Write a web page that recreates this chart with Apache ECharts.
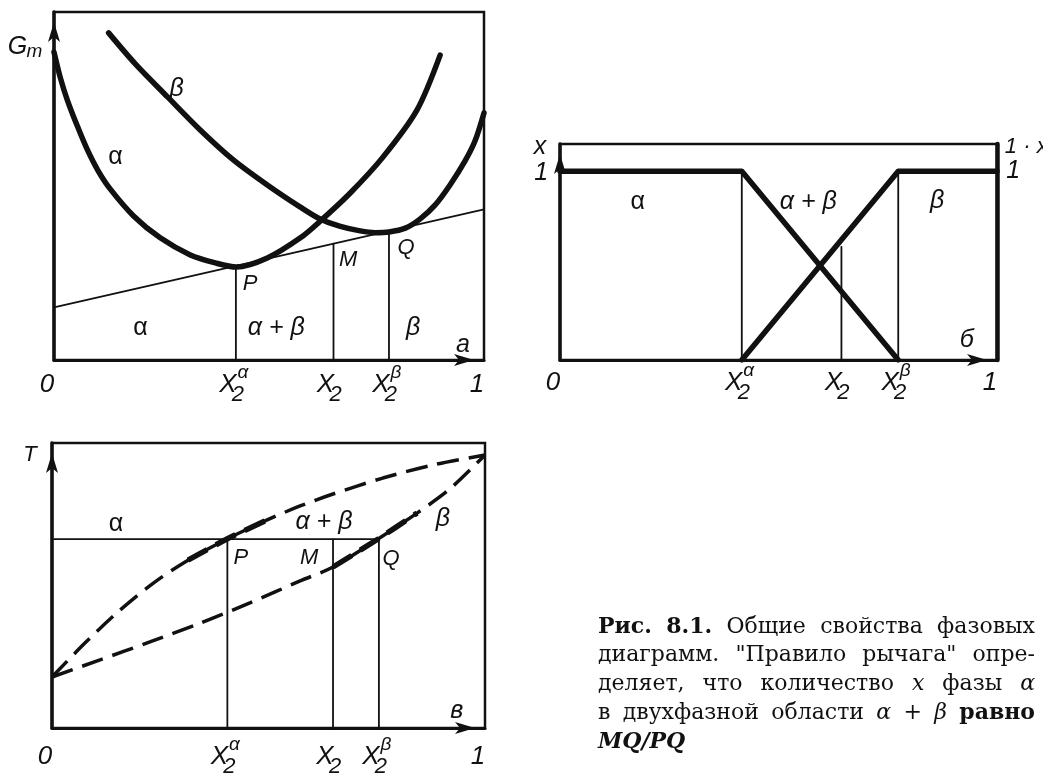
<!DOCTYPE html>
<html>
<head>
<meta charset="utf-8">
<script src="https://cdn.jsdelivr.net/npm/echarts@6/dist/echarts.min.js"></script>
<style>
  html, body { margin: 0; padding: 0; background: #fff; }
  #chart { width: 1043px; height: 776px; }
</style>
</head>
<body>
<div id="chart"></div>
<script>
// ---------- data ----------
// compositions marked on each composition axis: 0, X2α, X2, X2β, 1
const gibbsComp = [0, 0.423, 0.65, 0.779, 1];
const fracComp  = [0, 0.416, 0.644, 0.774, 1];
const tempComp  = [0, 0.405, 0.649, 0.755, 1];
const compLabels = [
  { base: '0' },
  { base: 'X', sub: '2', sup: 'α' },
  { base: 'X', sub: '2' },
  { base: 'X', sub: '2', sup: 'β' },
  { base: '1' }
];

// molar Gibbs energy of the α and β phases vs composition
const gibbsAlpha = [[0, 0.885], [0.015, 0.81], [0.031, 0.747], [0.055, 0.67], [0.078, 0.603],
  [0.103, 0.543], [0.131, 0.491], [0.185, 0.414], [0.247, 0.351], [0.317, 0.302],
  [0.375, 0.279], [0.424, 0.267], [0.496, 0.293], [0.573, 0.351], [0.619, 0.399],
  [0.689, 0.48], [0.765, 0.583], [0.844, 0.718], [0.898, 0.876]];
const gibbsBeta = [[0.127, 0.94], [0.189, 0.851], [0.264, 0.756], [0.34, 0.661], [0.417, 0.575],
  [0.496, 0.503], [0.572, 0.44], [0.619, 0.405], [0.666, 0.384], [0.712, 0.371],
  [0.747, 0.366], [0.779, 0.368], [0.817, 0.379], [0.851, 0.405], [0.886, 0.445],
  [0.921, 0.503], [0.956, 0.572], [0.979, 0.629], [1, 0.71]];
// common tangent touching both curves
const tangent = [[0, 0.151], [1, 0.433]];

// phase amounts x (α) and 1 - x (β)
const fracAlpha = [[0, 1], [0.416, 1], [0.774, 0]];
const fracBeta  = [[0.416, 0], [0.774, 1], [1, 1]];
const fracLeverTop = 0.6;

// temperature diagram: phase boundaries and the tie line P–Q
const tempUpper = [[0, 0.179], [0.076, 0.298], [0.152, 0.407], [0.231, 0.505], [0.314, 0.589],
  [0.404, 0.663], [0.497, 0.73], [0.573, 0.779], [0.649, 0.821], [0.764, 0.877],
  [0.88, 0.923], [1, 0.958]];
const tempLower = [[0, 0.179], [0.111, 0.239], [0.226, 0.302], [0.342, 0.368], [0.457, 0.439],
  [0.573, 0.516], [0.649, 0.565], [0.753, 0.663], [0.843, 0.754], [0.919, 0.839], [1, 0.958]];
const tieT = 0.663;

// ---------- layout ----------
const INK = '#111';
const SANS = '"Liberation Sans", "DejaVu Sans", sans-serif';
const SERIF = '"DejaVu Serif", "Liberation Serif", serif';

const grids = [
  { left: 54, top: 12, width: 430, height: 348 },
  { left: 560, top: 144, width: 437, height: 216 },
  { left: 52, top: 443, width: 433, height: 285 }
].map(g => Object.assign({ show: true, borderColor: INK, borderWidth: 2.5, backgroundColor: 'transparent' }, g));

const yMax = [1, 1.145, 1];

function axisArrow(width) {
  return {
    show: true, onZero: false,
    symbol: ['none', 'arrow'], symbolSize: [9, 20], symbolOffset: [0, -10],
    lineStyle: { color: INK, width: width }
  };
}
const hidden = { axisTick: { show: false }, axisLabel: { show: false }, splitLine: { show: false } };

const xAxes = grids.map((g, i) => Object.assign({
  type: 'value', gridIndex: i, min: 0, max: 1, axisLine: axisArrow(3)
}, hidden));
const yAxes = grids.map((g, i) => Object.assign({
  type: 'value', gridIndex: i, min: 0, max: yMax[i], axisLine: axisArrow(3.5)
}, hidden));
// right-hand "1 - x" axis of the amount diagram
yAxes.push(Object.assign({
  type: 'value', gridIndex: 1, min: 0, max: yMax[1], position: 'right',
  axisLine: { show: true, onZero: false, lineStyle: { color: INK, width: 4.5 } }
}, hidden));

function line(gi, data, width, extra) {
  return Object.assign({
    type: 'line', xAxisIndex: gi, yAxisIndex: gi, data: data,
    symbol: 'none', showSymbol: false, silent: true, animation: false,
    lineStyle: { color: INK, width: width, cap: 'round', join: 'round' }
  }, extra || {});
}
function dashed(gi, data, width) {
  return line(gi, data, width, {
    smooth: 0.3,
    lineStyle: { color: INK, width: width, type: [22, 10], cap: 'butt' }
  });
}
function lerp(pts, x) {
  for (let i = 1; i < pts.length; i++) {
    if (x <= pts[i][0]) {
      const t = (x - pts[i - 1][0]) / (pts[i][0] - pts[i - 1][0]);
      return pts[i - 1][1] + t * (pts[i][1] - pts[i - 1][1]);
    }
  }
  return pts[pts.length - 1][1];
}

// composition labels under each axis (X with subscript 2 and phase superscript)
function tickSeries(gi, xs, dy) {
  return {
    type: 'custom', xAxisIndex: gi, yAxisIndex: gi, silent: true, animation: false, clip: false, z: 10,
    data: xs.map(x => [x, 0]),
    renderItem(params, api) {
      const p = api.coord([api.value(0), api.value(1)]);
      const lab = compLabels[params.dataIndex];
      const t = (s, x, y, size) => ({
        type: 'text', x: x, y: y,
        style: { text: s, font: 'italic ' + size + 'px ' + SANS, fill: INK, align: 'center', verticalAlign: 'middle' }
      });
      const kids = [];
      if (!lab.sub) {
        kids.push(t(lab.base, p[0] - 7, p[1] + dy, 26));
      } else {
        kids.push(t(lab.base, p[0] - 8, p[1] + dy, 26));
        kids.push(t(lab.sub, p[0] + 2, p[1] + dy + 10, 22));
        if (lab.sup) kids.push(t(lab.sup, p[0] + 7, p[1] + dy - 12, 19));
      }
      return { type: 'group', children: kids };
    }
  };
}

// letters placed inside and around each diagram (data coordinates of that diagram)
function noteSeries(gi, notes) {
  return {
    type: 'custom', xAxisIndex: gi, yAxisIndex: gi, silent: true, animation: false, clip: false, z: 10,
    data: notes.map(n => n.at),
    renderItem(params, api) {
      const n = notes[params.dataIndex];
      const p = api.coord([api.value(0), api.value(1)]);
      const style = (n.upright ? '' : 'italic ');
      const kids = [{
        type: 'text', x: p[0], y: p[1],
        style: { text: n.t, font: style + (n.size || 25) + 'px ' + SANS, fill: INK,
                 align: n.align || 'center', verticalAlign: 'middle' }
      }];
      if (n.sub) {
        kids.push({
          type: 'text', x: p[0] + 9, y: p[1] + 5,
          style: { text: n.sub, font: 'italic 19px ' + SANS, fill: INK, align: 'left', verticalAlign: 'middle' }
        });
      }
      return { type: 'group', children: kids };
    }
  };
}

const gibbsNotes = [
  { t: 'G', sub: 'm', at: [-0.085, 0.9] },
  { t: 'β', at: [0.285, 0.779] },
  { t: 'α', at: [0.143, 0.583], upright: true },
  { t: 'α', at: [0.201, 0.092], upright: true },
  { t: 'α + β', at: [0.517, 0.092] },
  { t: 'β', at: [0.835, 0.092] },
  { t: 'P', at: [0.456, 0.218], size: 22 },
  { t: 'M', at: [0.684, 0.287], size: 22 },
  { t: 'Q', at: [0.819, 0.322], size: 22 },
  { t: 'а', at: [0.951, 0.043] }
];
const fracNotes = [
  { t: 'x', at: [-0.046, 1.13] },
  { t: '1', at: [-0.043, 0.99] },
  { t: '1 · x', at: [1.018, 1.13], align: 'left', size: 22 },
  { t: '1', at: [1.037, 1.0] },
  { t: 'α', at: [0.178, 0.838], upright: true },
  { t: 'α + β', at: [0.568, 0.838] },
  { t: 'β', at: [0.863, 0.843] },
  { t: 'б', at: [0.931, 0.106] }
];
const tempNotes = [
  { t: 'T', at: [-0.051, 0.958], size: 22 },
  { t: 'α', at: [0.148, 0.716], upright: true },
  { t: 'α + β', at: [0.628, 0.723] },
  { t: 'β', at: [0.903, 0.733] },
  { t: 'P', at: [0.436, 0.596], size: 22 },
  { t: 'M', at: [0.594, 0.596], size: 22 },
  { t: 'Q', at: [0.783, 0.593], size: 22 },
  { t: 'в', at: [0.935, 0.06] }
];

const series = [];
// Gibbs energy diagram
series.push(line(0, tangent, 1.8));
for (let i = 1; i <= 3; i++) {
  series.push(line(0, [[gibbsComp[i], 0], [gibbsComp[i], lerp(tangent, gibbsComp[i])]], 1.8));
}
series.push(line(0, gibbsAlpha, 5.5, { smooth: 0.3 }));
series.push(line(0, gibbsBeta, 5.5, { smooth: 0.3 }));
series.push(tickSeries(0, gibbsComp, 25));
series.push(noteSeries(0, gibbsNotes));

// phase amount diagram
series.push(line(1, [[fracComp[1], 0], [fracComp[1], 1]], 1.8));
series.push(line(1, [[fracComp[2], 0], [fracComp[2], fracLeverTop]], 1.8));
series.push(line(1, [[fracComp[3], 0], [fracComp[3], 1]], 1.8));
series.push(line(1, fracAlpha, 5.5));
series.push(line(1, fracBeta, 5.5));
series.push(tickSeries(1, fracComp, 23));
series.push(noteSeries(1, fracNotes));

// temperature diagram
series.push(line(2, [[0, tieT], [tempComp[3], tieT]], 1.8));
for (let i = 1; i <= 3; i++) {
  series.push(line(2, [[tempComp[i], 0], [tempComp[i], tieT]], 1.8));
}
series.push(dashed(2, tempUpper, 3.5));
series.push(dashed(2, tempLower, 3.5));
series.push(dashed(2, tempUpper.filter(p => p[0] > 0.3 && p[0] < 0.5), 5.5));
series.push(dashed(2, tempLower.filter(p => p[0] > 0.64 && p[0] < 0.85), 5.5));
series.push(tickSeries(2, tempComp, 29));
series.push(noteSeries(2, tempNotes));

// ---------- caption, justified between two margins ----------
const captionLines = [
  [['Рис.', 'b'], ['8.1.', 'b'], ['Общие'], ['свойства'], ['фазовых']],
  [['диаграмм.'], ['"Правило'], ['рычага"'], ['опре-']],
  [['деляет,'], ['что'], ['количество'], ['x', 'i'], ['фазы'], ['α', 'i']],
  [['в'], ['двухфазной'], ['области'], ['α', 'i'], ['+'], ['β', 'i'], ['равно', 'b']],
  [['MQ/PQ', 'bi']]
];
const CAP_LEFT = 598, CAP_RIGHT = 1035, CAP_TOP = 627, CAP_STEP = 28.7, CAP_SIZE = 22;
function capFont(kind) {
  const it = kind && kind.indexOf('i') >= 0 ? 'italic ' : '';
  const bd = kind && kind.indexOf('b') >= 0 ? 'bold ' : '';
  return it + bd + CAP_SIZE + 'px ' + SERIF;
}
const measureCtx = document.createElement('canvas').getContext('2d');
const graphic = [];
captionLines.forEach((words, li) => {
  const widths = words.map(w => { measureCtx.font = capFont(w[1]); return measureCtx.measureText(w[0]).width; });
  const total = widths.reduce((a, b) => a + b, 0);
  const last = li === captionLines.length - 1;
  const gap = last || words.length < 2 ? CAP_SIZE * 0.25 : (CAP_RIGHT - CAP_LEFT - total) / (words.length - 1);
  let x = CAP_LEFT;
  words.forEach((w, wi) => {
    graphic.push({
      type: 'text', x: x, y: CAP_TOP + li * CAP_STEP, silent: true,
      style: { text: w[0], font: capFont(w[1]), fill: INK, align: 'left', verticalAlign: 'middle' }
    });
    x += widths[wi] + gap;
  });
});

const chart = echarts.init(document.getElementById('chart'), null, { renderer: 'canvas', width: 1043, height: 776 });
chart.setOption({
  backgroundColor: '#fff',
  animation: false,
  grid: grids,
  xAxis: xAxes,
  yAxis: yAxes,
  series: series,
  graphic: graphic
});
</script>
</body>
</html>
